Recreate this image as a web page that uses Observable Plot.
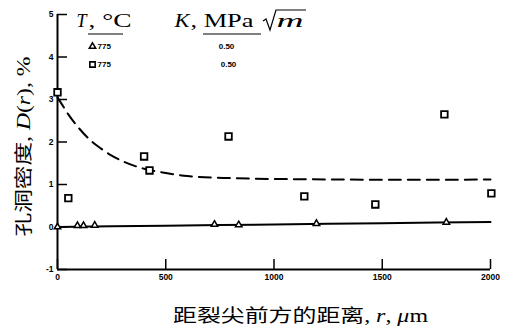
<!DOCTYPE html>
<html><head><meta charset="utf-8">
<script src="https://cdn.jsdelivr.net/npm/d3@7"></script>
<script src="https://cdn.jsdelivr.net/npm/@observablehq/plot@0.6"></script>
<style>body{margin:0;background:#fff}</style>
</head><body><div id="chart"></div>
<script>
// ---- data ----
const rSquare = [0, 50, 400, 425, 790, 1140, 1468, 1787, 2004];
const dSquare = [3.17, 0.68, 1.66, 1.33, 2.13, 0.72, 0.53, 2.65, 0.79];
const rTriangle = [0, 92, 120, 172, 725, 837, 1196, 1796];
const dTriangle = [0.0, 0.03, 0.03, 0.04, 0.06, 0.05, 0.08, 0.11];
const rDash = [0, 25, 50, 100, 150, 200, 250, 300, 400, 500, 600, 800, 1000, 1250, 1500, 1750, 2000];
const dDash = [3.05, 2.85, 2.65, 2.32, 2.05, 1.85, 1.68, 1.55, 1.37, 1.27, 1.2, 1.15, 1.13, 1.12, 1.11, 1.11, 1.12];
const rSolid = [0, 500, 1000, 1500, 2000];
const dSolid = [0.0, 0.03, 0.06, 0.09, 0.12];
const xTicks = [0, 500, 1000, 1500, 2000];
const yTicks = [-1, 0, 1, 2, 3, 4, 5];
const legendTemps = ["775", "775"];
const legendK = ["0.50", "0.50"];
const xLabel = "距裂尖前方的距离, r, μm";
const yLabel = "孔洞密度, D(r), %";

// ---- layout ----
const W = 512, H = 329, ML = 57, MR = 22, MT = 14, MB = 60;
const iw = W - ML - MR, ih = H - MT - MB;
const serif = "'Liberation Serif', 'DejaVu Serif', serif";
const cjk = "'Noto Sans CJK SC', sans-serif";
const tickFont = "'Liberation Sans', 'DejaVu Sans', sans-serif";

const squares = rSquare.map((r, i) => ({r, d: dSquare[i]}));
const triangles = rTriangle.map((r, i) => ({r, d: dTriangle[i]}));
const dashed = rDash.map((r, i) => ({r, d: dDash[i]}));
const solid = rSolid.map((r, i) => ({r, d: dSolid[i]}));

const at = (px, py) => ({frameAnchor: "top-left", dx: px - ML, dy: py - MT});
const txt = (s, px, py, o = {}) => Plot.text([s], {text: d => d, ...at(px, py), textAnchor: "start", lineAnchor: "middle", fill: "black", ...o});

const chart = Plot.plot({
  width: W, height: H, marginLeft: ML, marginRight: MR, marginTop: MT, marginBottom: MB,
  style: {background: "#fff", color: "#000"},
  x: {domain: [0, 2000]},
  y: {domain: [-1, 5]},
  marks: [
    Plot.axisX(xTicks, {tickSize: 0, tickPadding: 4, fontSize: 8.5, fontWeight: "bold", label: null, tickFormat: d => String(d), fontFamily: tickFont}),
    Plot.axisY(yTicks, {tickSize: 0, tickPadding: 4, fontSize: 8.5, fontWeight: "bold", label: null, tickFormat: d => String(d), fontFamily: tickFont}),
    Plot.tickY(yTicks, {y: d => d, insetRight: iw - 10, strokeWidth: 1.5}),
    Plot.tickX(xTicks, {x: d => d, insetTop: ih - 10, strokeWidth: 1.5}),
    Plot.ruleX([0], {strokeWidth: 2}),
    Plot.ruleY([-1], {strokeWidth: 2}),
    Plot.line(dashed, {x: "r", y: "d", strokeWidth: 2, strokeDasharray: "12,7", curve: "monotone-x"}),
    Plot.line(solid, {x: "r", y: "d", strokeWidth: 2, curve: "monotone-x"}),
    Plot.dot(squares, {x: "r", y: "d", symbol: "square", r: 3.7, stroke: "black", strokeWidth: 1.8, fill: "white"}),
    Plot.dot(triangles, {x: "r", y: "d", symbol: "triangle", r: 2.4, stroke: "black", strokeWidth: 1.5, fill: "white"}),
    // legend
    txt("T", 76, 21, {fontSize: 18, fontStyle: "italic", fontFamily: serif}),
    txt(", °C", 88, 21, {fontSize: 18, fontFamily: serif}),
    txt("K", 174, 21, {fontSize: 18, fontStyle: "italic", fontFamily: serif}),
    txt(", MPa", 190, 21, {fontSize: 18, fontFamily: serif}),
    txt("m", 276, 21, {fontSize: 18, fontStyle: "italic", fontFamily: serif}),
    Plot.dot([0], {...at(92, 46), symbol: "triangle", r: 2.4, stroke: "black", strokeWidth: 1.5}),
    Plot.dot([0], {...at(92, 64), symbol: "square", r: 3, stroke: "black", strokeWidth: 1.6}),
    txt(legendTemps[0], 97, 46, {fontSize: 8, fontWeight: "bold", fontFamily: tickFont}),
    txt(legendTemps[1], 97, 64, {fontSize: 8, fontWeight: "bold", fontFamily: tickFont}),
    txt(legendK[0], 226, 46, {fontSize: 8, fontWeight: "bold", fontFamily: tickFont, textAnchor: "middle"}),
    txt(legendK[1], 228, 64, {fontSize: 8, fontWeight: "bold", fontFamily: tickFont, textAnchor: "middle"}),
    // axis labels
    Plot.text([xLabel], {text: d => d, frameAnchor: "bottom", textAnchor: "middle", lineAnchor: "middle", dx: 300 - (ML + iw / 2), dy: 316 - (MT + ih), fontSize: 18, fontFamily: cjk, fill: "black"}),
    Plot.text([yLabel], {text: d => d, frameAnchor: "left", textAnchor: "middle", lineAnchor: "middle", dx: 24 - ML, dy: 146 - (MT + ih / 2), rotate: -90, fontSize: 18, fontFamily: cjk, fill: "black"})
  ]
});
document.getElementById("chart").appendChild(chart);

// ---- post-processing: mixed fonts and decorations ----
const svg = d3.select(chart);
function rebuild(content, parts, length) {
  svg.selectAll("text").filter(function () { return this.textContent === content; }).each(function () {
    const t = d3.select(this);
    t.text(null);
    parts.forEach(([s, fam, style]) => t.append("tspan").attr("font-family", fam).attr("font-style", style || "normal").text(s));
    if (length) t.attr("textLength", length).attr("lengthAdjust", "spacingAndGlyphs");
  });
}
rebuild(xLabel, [["距裂尖前方的距离", cjk], [", ", serif], ["r", serif, "italic"], [", ", serif], ["μ", serif, "italic"], ["m", serif]], 255);
rebuild(yLabel, [["孔洞密度", cjk], [", ", serif], ["D", serif, "italic"], ["(", serif], ["r", serif, "italic"], [")", serif], [", %", serif]], 180);
const stretch = (content, len) => svg.selectAll("text").filter(function () { return this.textContent === content; }).attr("textLength", len).attr("lengthAdjust", "spacingAndGlyphs");
stretch(", °C", 43);
stretch(", MPa", 63);
stretch("m", 27);
stretch("K", 15);
const deco = svg.append("g").attr("stroke", "black").attr("fill", "none");
deco.append("line").attr("x1", 88).attr("x2", 123).attr("y1", 34).attr("y2", 34).attr("stroke-width", 1);
deco.append("line").attr("x1", 203).attr("x2", 261).attr("y1", 34).attr("y2", 34).attr("stroke-width", 1);
deco.append("path").attr("d", "M263,21 L266,19 L270,30 L276,10 L306,10").attr("stroke-width", 1.2);
</script>
</body></html>
